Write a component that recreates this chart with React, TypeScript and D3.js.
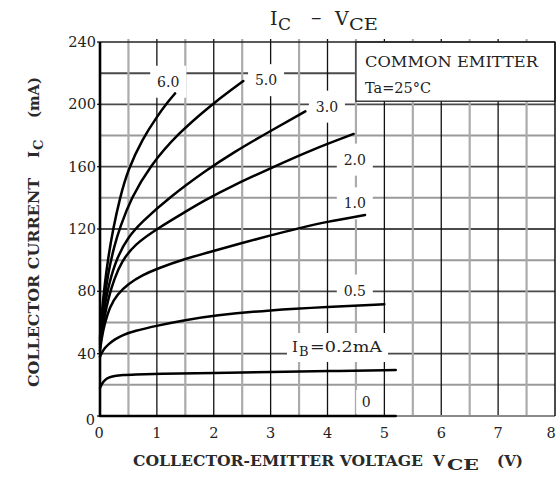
import React from 'react';
import * as d3 from 'd3';

// ---- data ----
const xTicks = [0, 1, 2, 3, 4, 5, 6, 7, 8];
const yTicks = [0, 40, 80, 120, 160, 200, 240];

const vce60 = [0, 0.03, 0.08, 0.15, 0.23, 0.35, 0.49, 0.75, 1.0, 1.18, 1.32];
const ic60 = [50, 66, 84, 103, 120, 140, 158, 178, 192, 201, 207];

const vce50 = [0, 0.03, 0.08, 0.15, 0.25, 0.35, 0.55, 0.87, 1.36, 1.97, 2.3, 2.52];
const ic50 = [48, 61, 76, 93, 109, 121, 140, 160, 181, 200, 209, 215];

const vce30 = [0, 0.03, 0.08, 0.15, 0.3, 0.5, 0.72, 1.21, 1.88, 2.34, 3.0, 3.61];
const ic30 = [46, 57, 70, 84, 102, 115, 124, 140, 158, 169, 183, 195.5];

const vce20 = [0, 0.03, 0.08, 0.15, 0.25, 0.38, 0.6, 1.04, 1.5, 1.82, 2.34, 3.06, 3.7, 4.46];
const ic20 = [44, 53, 64, 76, 88, 99, 110, 121, 131, 138, 148, 160, 170.5, 181];

const vce10 = [0, 0.03, 0.08, 0.17, 0.3, 0.5, 0.75, 1.0, 1.46, 2.0, 2.5, 3.0, 3.5, 3.96, 4.66];
const ic10 = [42, 50, 59, 70, 78, 85, 90.5, 94.5, 100.5, 106, 111, 116, 120.5, 124.5, 129];

const vce05 = [0, 0.03, 0.08, 0.15, 0.25, 0.4, 0.6, 1.0, 1.5, 2.0, 3.0, 4.0, 5.0];
const ic05 = [38, 40.5, 43.5, 46, 49, 52, 54.5, 58, 61.5, 64.5, 68, 70, 71.7];

const vce02 = [0, 0.03, 0.08, 0.15, 0.25, 0.4, 0.6, 1.0, 2.0, 3.0, 4.0, 5.2];
const ic02 = [18, 20.5, 23, 24.8, 25.8, 26.3, 26.6, 27, 27.6, 28.2, 28.8, 29.5];

const vce00 = [0, 5.2];
const ic00 = [0, 0];

const seriesV = [vce60, vce50, vce30, vce20, vce10, vce05, vce02, vce00];
const seriesI = [ic60, ic50, ic30, ic20, ic10, ic05, ic02, ic00];

// curve labels (text, anchor V, anchor mA)
const labelText = ['6.0', '5.0', '3.0', '2.0', '1.0', '0.5', '0'];
const labelV = [1.2, 2.92, 3.99, 4.48, 4.48, 4.48, 4.68];
const labelI = [214.5, 215.5, 198.5, 164.5, 136.5, 80.5, 9];

export default function App() {
  const W = 558, H = 482;
  const x = d3.scaleLinear().domain([0, 8]).range([100, 555]);
  const y = d3.scaleLinear().domain([0, 240]).range([416, 42]);

  const line = d3
    .line<[number, number]>()
    .x((d) => x(d[0]))
    .y((d) => y(d[1]))
    .curve(d3.curveBasis);

  const xGrid = d3.range(0.5, 8, 0.5);
  const yGrid = d3.range(20, 240, 20);

  const serif = "'DejaVu Serif', serif";
  const ink = '#222';

  return (
    <svg
      width={W}
      height={H}
      style={{ position: 'absolute', left: 0, top: 0, background: '#fff' }}
      fontFamily={serif}
    >
      <rect x={0} y={0} width={W} height={H} fill="#fff" />

      {/* horizontal grid */}
      {yGrid.map((v) => (
        <line
          key={'h' + v}
          x1={x(0)}
          x2={x(8)}
          y1={y(v)}
          y2={y(v)}
          stroke={v % 40 === 0 || v === 220 ? '#4a4a4a' : '#9a9a9a'}
          strokeWidth={v % 40 === 0 ? 1.8 : 2}
        />
      ))}
      {/* vertical grid */}
      {xGrid.map((v) => (
        <line
          key={'v' + v}
          x1={x(v)}
          x2={x(v)}
          y1={y(240) - 3}
          y2={y(0)}
          stroke={Number.isInteger(v) ? '#111' : '#ababab'}
          strokeWidth={Number.isInteger(v) ? 1.3 : 2.2}
        />
      ))}
      {/* left ticks */}
      {yTicks.map((t) => (
        <line key={'yt' + t} x1={x(0) - 3} x2={x(0)} y1={y(t)} y2={y(t)} stroke={ink} strokeWidth={1.4} />
      ))}

      {/* note box */}
      <rect
        x={x(4.5)}
        y={y(240)}
        width={x(8) - x(4.5)}
        height={y(202) - y(240)}
        fill="#fff"
        stroke={ink}
        strokeWidth={1.3}
      />
      <text x={365} y={67} fontSize={14.5} fill={ink} textLength={173} lengthAdjust="spacingAndGlyphs">
        COMMON EMITTER
      </text>
      <text x={365} y={93} fontSize={14.5} fill={ink}>
        Ta=25°C
      </text>

      {/* label backgrounds */}
      {labelText.map((t, i) => {
        const w = t === '0' ? 20 : 36;
        const h = t === '0' ? 24 : 32;
        return (
          <rect
            key={'lb' + i}
            x={x(labelV[i]) - w / 2}
            y={y(labelI[i]) - h / 2}
            width={w}
            height={h}
            fill="#fff"
          />
        );
      })}
      <rect x={287} y={333} width={101} height={29} fill="#fff" />

      {/* frame */}
      <line x1={x(0)} x2={x(8)} y1={y(0)} y2={y(0)} stroke="#8a8a8a" strokeWidth={2.2} />
      <line x1={x(0)} x2={x(8)} y1={y(240)} y2={y(240)} stroke={ink} strokeWidth={1.5} />
      <line x1={x(8)} x2={x(8)} y1={y(240)} y2={y(0)} stroke="#111" strokeWidth={1.5} />
      <line x1={x(0)} x2={x(0)} y1={y(240)} y2={y(0) + 1} stroke="#000" strokeWidth={2.6} />

      {/* curves */}
      {seriesV.map((vs, i) => (
        <path
          key={'c' + i}
          d={line(vs.map((v, j) => [v, seriesI[i][j]] as [number, number])) || ''}
          fill="none"
          stroke="#000"
          strokeWidth={2.5}
          strokeLinecap="round"
        />
      ))}

      {/* curve labels */}
      {labelText.map((t, i) => (
        <text
          key={'lt' + i}
          x={x(labelV[i])}
          y={y(labelI[i]) + 5}
          fontSize={14}
          textAnchor="middle"
          fill={ink}
        >
          {t}
        </text>
      ))}
      <text x={292} y={352} fontSize={15} fill={ink}>I</text>
      <text x={299} y={356} fontSize={13} fill={ink}>B</text>
      <text x={310} y={352} fontSize={14} fill={ink} textLength={72} lengthAdjust="spacingAndGlyphs">
        =0.2mA
      </text>

      {/* y tick labels */}
      {yTicks.map((t) => (
        <text
          key={'yl' + t}
          x={t === 0 ? 95 : 96}
          y={t === 0 ? y(t) + 9 : y(t) + 5}
          fontSize={14.5}
          textAnchor="end"
          fill={ink}
        >
          {t}
        </text>
      ))}
      {/* x tick labels */}
      {xTicks.map((t) => (
        <text
          key={'xl' + t}
          x={x(t) + (t === 0 ? -1 : t === 8 ? -4 : 0)}
          y={438}
          fontSize={14.5}
          textAnchor="middle"
          fill={ink}
        >
          {t}
        </text>
      ))}

      {/* x-axis title */}
      <text x={133} y={466} fontSize={14} fontWeight="bold" fill="#2a2a2a" textLength={290} lengthAdjust="spacingAndGlyphs">
        COLLECTOR-EMITTER VOLTAGE
      </text>
      <text x={433} y={466} fontSize={15} fontWeight="bold" fill="#2a2a2a">
        V
      </text>
      <text x={447} y={470} fontSize={14} fontWeight="bold" fill="#2a2a2a" textLength={32} lengthAdjust="spacingAndGlyphs">
        CE
      </text>
      <text x={497} y={466} fontSize={14} fontWeight="bold" fill="#2a2a2a" textLength={26} lengthAdjust="spacingAndGlyphs">
        (V)
      </text>

      {/* y-axis title */}
      <g transform="translate(38.5,387) rotate(-90)">
        <text x={0} y={0} fontSize={14} fontWeight="bold" fill="#2a2a2a" textLength={209} lengthAdjust="spacingAndGlyphs">
          COLLECTOR CURRENT
        </text>
        <text x={229} y={0} fontSize={15} fontWeight="bold" fill="#2a2a2a">
          I
        </text>
        <text x={237} y={4} fontSize={13} fontWeight="bold" fill="#2a2a2a">
          C
        </text>
        <text x={269} y={0} fontSize={14} fontWeight="bold" fill="#2a2a2a" textLength={41} lengthAdjust="spacingAndGlyphs">
          (mA)
        </text>
      </g>

      {/* title */}
      <text x={270} y={25} fontSize={19} fill={ink}>
        I
      </text>
      <text x={278} y={30} fontSize={17} fill={ink}>
        C
      </text>
      <text x={311} y={24} fontSize={21} fill={ink}>
        –
      </text>
      <text x={335} y={25} fontSize={19} fill={ink}>
        V
      </text>
      <text x={349} y={30} fontSize={17} fill={ink} textLength={29} lengthAdjust="spacingAndGlyphs">
        CE
      </text>
    </svg>
  );
}
